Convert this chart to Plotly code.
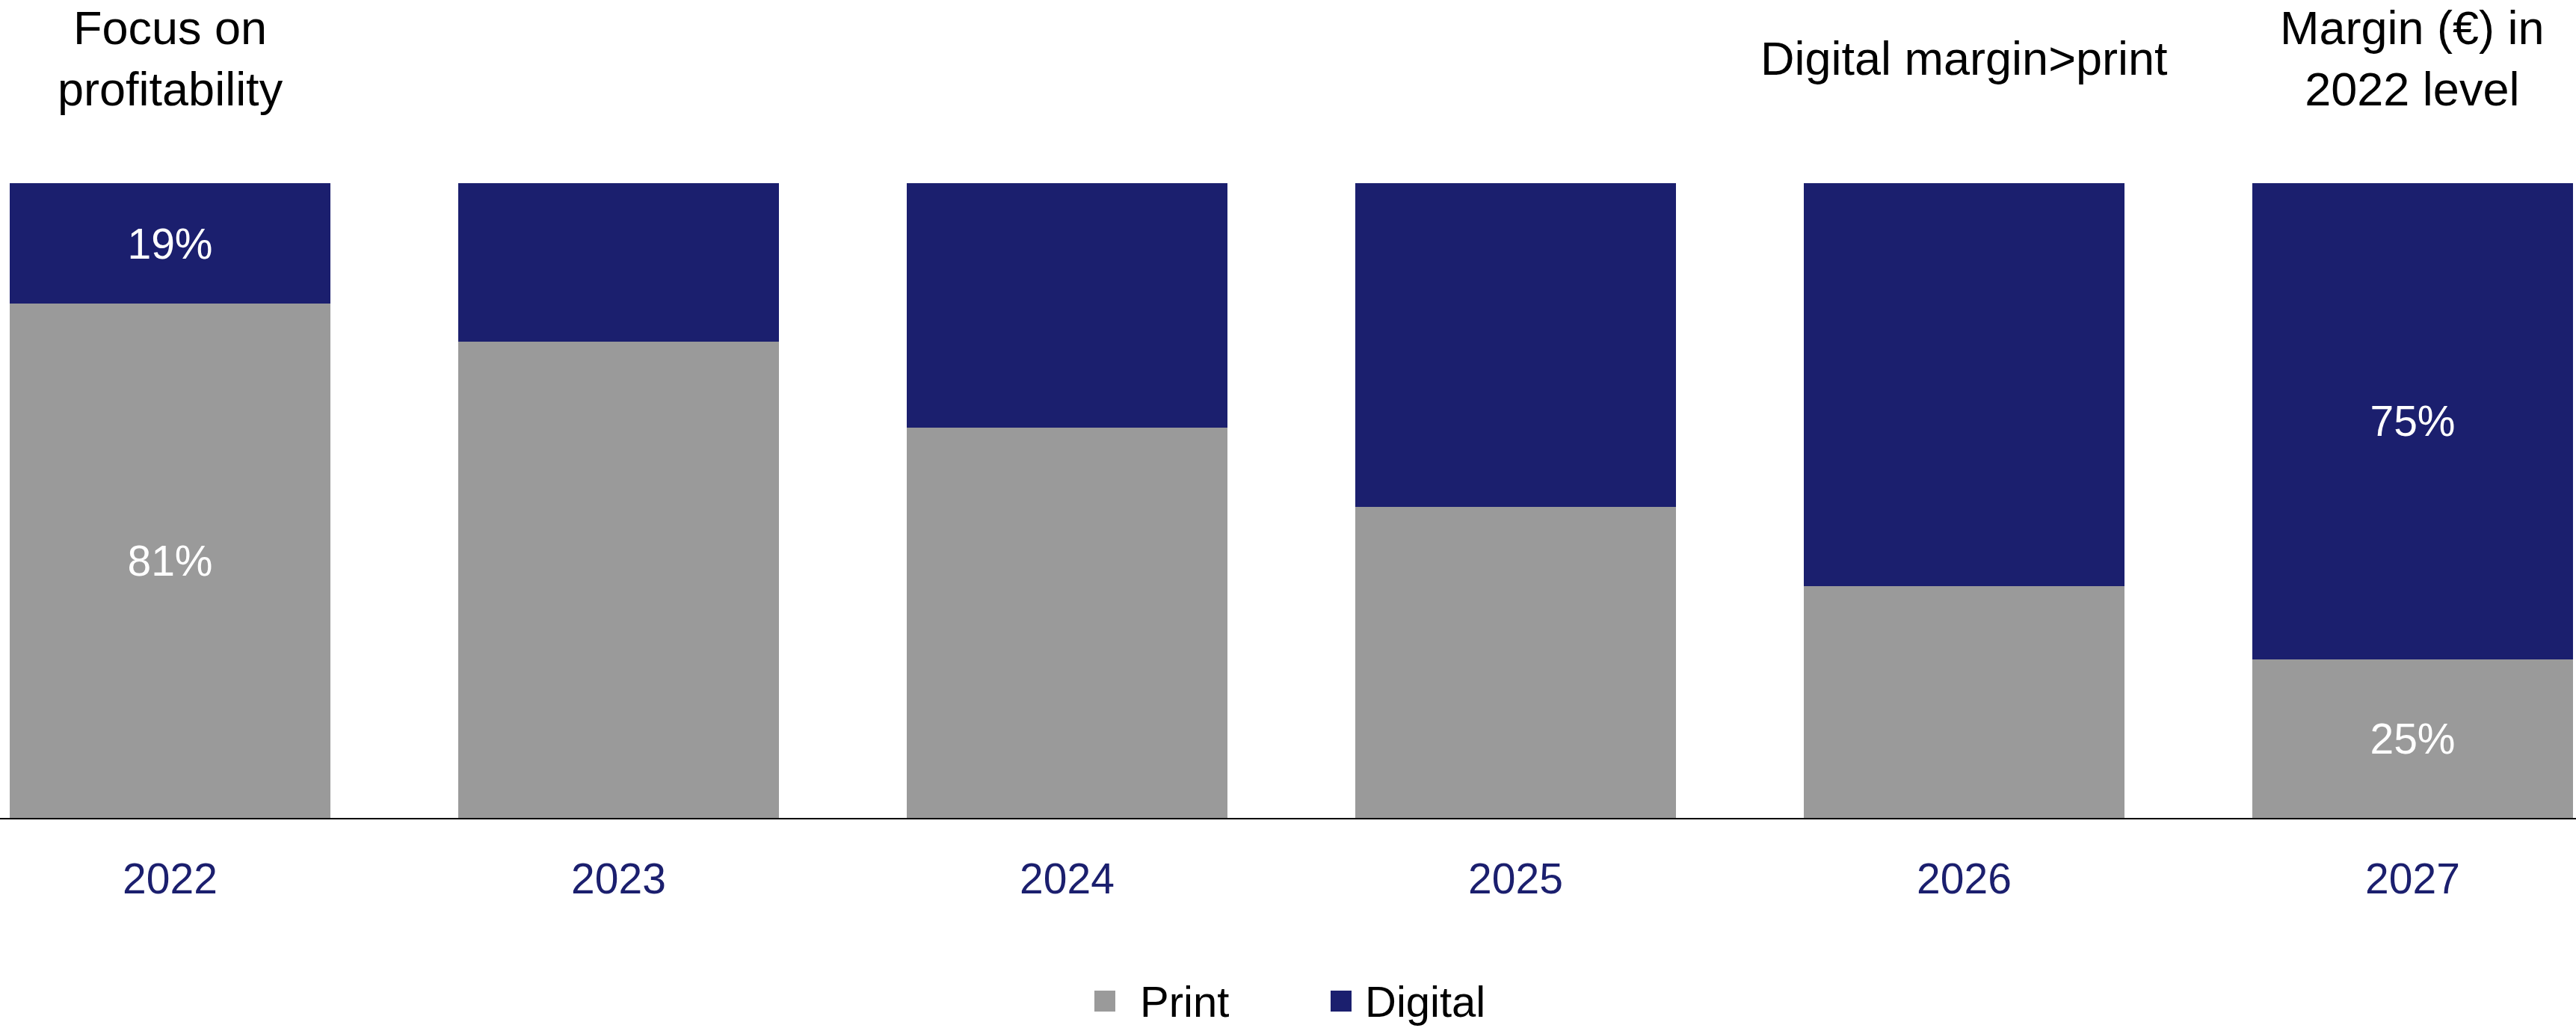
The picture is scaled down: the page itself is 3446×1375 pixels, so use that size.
import plotly.graph_objects as go

# Share of margin by channel, in percent of the total
years = ["2022", "2023", "2024", "2025", "2026", "2027"]
print_share = [81, 75, 61.5, 49, 36.5, 25]
digital_share = [19, 25, 38.5, 51, 63.5, 75]

# Years whose segments carry a value label
labelled_years = ["2022", "2027"]

# Headline notes above selected years
note_years = ["2022", "2026", "2027"]
note_texts = ["Focus on<br>profitability", "Digital margin>print", "Margin (€) in<br>2022 level"]

series_names = ["Print", "Digital"]

NAVY = "#1B1F6E"
GREY = "#9A9A9A"
FONT = "Liberation Sans, Arial, sans-serif"

W, H = 3446, 1375
M_L, M_R, M_T, M_B = 0, 0, 245, 281
PLOT_H = H - M_T - M_B
X_RANGE = [-0.3792, 5.3642]


def py(v):
    """Pixel row (from the top of the page) to paper y."""
    return (M_T + PLOT_H - v) / PLOT_H


def cat_to_paper(cat):
    """Category centre to paper x."""
    i = years.index(cat)
    return (i - X_RANGE[0]) / (X_RANGE[1] - X_RANGE[0])


def seg_labels(values):
    return [f"{v:.0f}%" if y in labelled_years else "" for y, v in zip(years, values)]


fig = go.Figure()
for name, values, colour in [
    (series_names[0], print_share, GREY),
    (series_names[1], digital_share, NAVY),
]:
    fig.add_trace(
        go.Bar(
            x=years,
            y=values,
            name=name,
            marker=dict(color=colour, line=dict(width=0)),
            width=0.715,
            text=seg_labels(values),
            textposition="inside",
            insidetextanchor="middle",
            textangle=0,
            constraintext="none",
            textfont=dict(family=FONT, size=57, color="white"),
            showlegend=False,
            hoverinfo="x+y+name",
        )
    )

# Notes above the bars
for yr, txt in zip(note_years, note_texts):
    fig.add_annotation(
        x=cat_to_paper(yr),
        xref="paper",
        y=py(78),
        yref="paper",
        text=txt,
        showarrow=False,
        xanchor="center",
        yanchor="middle",
        align="center",
        font=dict(family=FONT, size=63, color="black"),
    )

# Legend drawn as swatches with labels below the axis
legend_items = [
    (series_names[0], GREY, 1464, 1523),
    (series_names[1], NAVY, 1780, 1824),
]
SW = 28
LEG_CY = 1339

for name, colour, sx, tx in legend_items:
    fig.add_shape(
        type="rect",
        xref="paper",
        yref="paper",
        x0=sx / W,
        x1=(sx + SW) / W,
        y0=py(LEG_CY + SW / 2),
        y1=py(LEG_CY - SW / 2),
        fillcolor=colour,
        line=dict(width=0),
    )
    fig.add_annotation(
        x=tx / W,
        y=py(LEG_CY),
        xref="paper",
        yref="paper",
        text=name,
        showarrow=False,
        xanchor="left",
        yanchor="middle",
        font=dict(family=FONT, size=58, color="black"),
    )

fig.update_layout(
    width=W,
    height=H,
    autosize=False,
    barmode="stack",
    bargap=0.285,
    margin=dict(l=M_L, r=M_R, t=M_T, b=M_B, pad=0),
    paper_bgcolor="white",
    plot_bgcolor="white",
    font=dict(family=FONT),
    showlegend=False,
)
fig.update_xaxes(
    type="category",
    range=X_RANGE,
    showline=True,
    linecolor="black",
    linewidth=2,
    showgrid=False,
    zeroline=False,
    ticks="outside",
    ticklen=31,
    tickcolor="rgba(0,0,0,0)",
    tickfont=dict(family=FONT, size=57, color=NAVY),
)
fig.update_yaxes(range=[0, 100], visible=False, showgrid=False, zeroline=False)

fig.write_html("out.html")
